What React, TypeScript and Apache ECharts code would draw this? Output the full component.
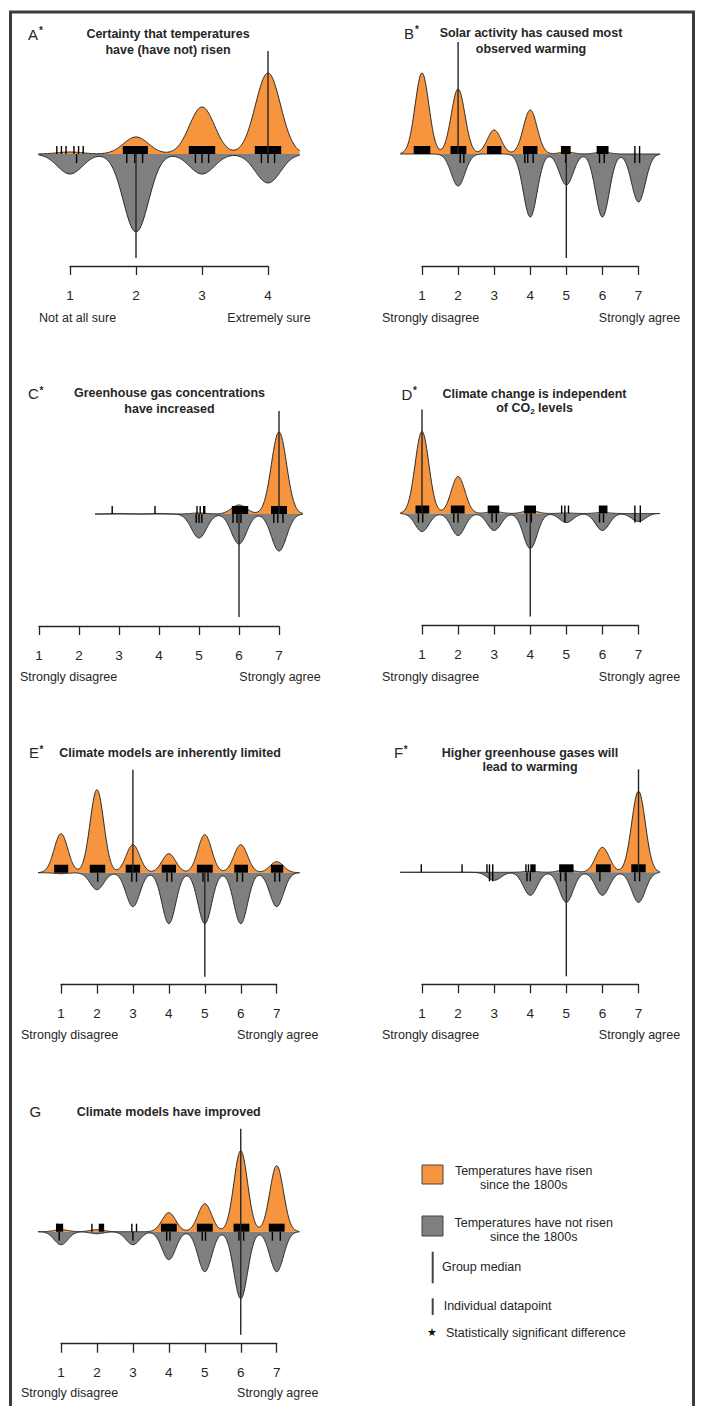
import React, { useEffect, useRef } from "react";
import * as echarts from "echarts";

const ORANGE = "#f7953f";
const GRAY = "#7f7f7f";
const INK = "#262626";
const FONT = '"Liberation Sans", Arial, Helvetica, sans-serif';
const BW = 0.19; // kernel bandwidth (response units)

// ---------- data (density peak per response level, in bean units) ----------
const levels4 = ["1", "2", "3", "4"];
const levels7 = ["1", "2", "3", "4", "5", "6", "7"];

const A_risen = [0.02, 0.17, 0.47, 0.81];
const A_notRisen = [0.2, 0.78, 0.2, 0.29];
const A_risenBands = [[1.8, 2.18], [2.8, 3.2], [3.8, 4.2]];
const A_risenTicks = [0.8, 0.87, 0.94, 1.06, 1.13, 1.2];
const A_notRisenTicks = [1.1, 1.86, 1.98, 2.1, 2.9, 3.0, 3.1, 3.9, 4.0, 4.1];
const A_medians = [4, 2];

const B_risen = [0.81, 0.65, 0.24, 0.44, 0.02, 0.02, 0];
const B_notRisen = [0, 0.32, 0, 0.63, 0.31, 0.63, 0.48];
const B_risenBands = [[0.77, 1.23], [1.79, 2.23], [2.8, 3.2], [3.8, 4.2], [4.85, 5.12], [5.84, 6.17]];
const B_risenTicks = [6.9, 7.03];
const B_notRisenTicks = [2.06, 2.16, 3.85, 3.93, 4.08, 4.98, 5.92, 6.05, 6.9, 7.03];
const B_medians = [2, 5];

const C_risen = [0, 0, 0.005, 0.005, 0.01, 0.09, 0.82];
const C_notRisen = [0, 0, 0, 0, 0.24, 0.3, 0.37];
const C_risenBands = [[5.82, 6.23], [6.8, 7.2], [5.1, 5.16]];
const C_risenTicks = [2.83, 3.9, 4.95, 5.03];
const C_notRisenTicks = [4.93, 5.0, 5.07, 5.85, 5.95, 6.05, 6.87, 6.97, 7.1];
const C_medians = [7, 6];

const D_risen = [0.82, 0.37, 0.02, 0.03, 0.005, 0.01, 0];
const D_notRisen = [0.18, 0.22, 0.17, 0.35, 0.09, 0.17, 0.08];
const D_risenBands = [[0.82, 1.2], [1.8, 2.18], [2.82, 3.14], [3.83, 4.16], [5.9, 6.14]];
const D_risenTicks = [4.87, 4.96, 5.06, 6.9, 7.05];
const D_notRisenTicks = [0.9, 1.02, 1.88, 2.0, 2.94, 3.06, 3.9, 4.03, 4.96, 5.92, 6.03, 6.9, 7.05];
const D_medians = [1, 4];

const E_risen = [0.39, 0.83, 0.28, 0.19, 0.38, 0.28, 0.11];
const E_notRisen = [0.01, 0.17, 0.34, 0.51, 0.51, 0.51, 0.34];
const E_risenBands = [[0.81, 1.2], [1.8, 2.23], [2.8, 3.2], [3.8, 4.2], [4.78, 5.22], [5.82, 6.2], [6.84, 7.18]];
const E_risenTicks: number[] = [];
const E_notRisenTicks = [2.02, 2.97, 3.1, 3.95, 4.08, 4.95, 5.09, 5.9, 6.05, 6.95, 7.08];
const E_medians = [3, 5];

const F_risen = [0, 0, 0, 0.01, 0.03, 0.25, 0.81];
const F_notRisen = [0, 0, 0.08, 0.23, 0.3, 0.23, 0.3];
const F_risenBands = [[4.0, 4.15], [4.8, 5.2], [5.82, 6.23], [6.8, 7.2]];
const F_risenTicks = [0.98, 2.11, 2.8, 2.87, 2.96, 3.88, 3.95];
const F_notRisenTicks = [2.87, 2.96, 3.91, 4.0, 4.84, 4.97, 5.93, 6.9, 7.03];
const F_medians = [7, 5];

const G_risen = [0.02, 0.02, 0, 0.19, 0.28, 0.81, 0.66];
const G_notRisen = [0.13, 0.02, 0.13, 0.28, 0.4, 0.67, 0.4];
const G_risenBands = [[0.86, 1.06], [2.05, 2.2], [3.78, 4.22], [4.78, 5.22], [5.8, 6.24], [6.78, 7.22]];
const G_risenTicks = [0.9, 1.86, 2.97, 3.1];
const G_notRisenTicks = [0.95, 3.0, 3.94, 4.03, 4.93, 5.02, 5.95, 6.08, 6.88, 7.1];
const G_medians = [6, 6];

const panelLetters = ["A", "B", "C", "D", "E", "F", "G"];
const significant = [true, true, true, true, true, true, false];
const panelTitles = [
  ["Certainty that temperatures", "have (have not) risen"],
  ["Solar activity has caused most", "observed warming"],
  ["Greenhouse gas concentrations", "have increased"],
  ["Climate change is independent", "of CO{sub|2} levels"],
  ["Climate models are inherently limited"],
  ["Higher greenhouse gases will", "lead to warming"],
  ["Climate models have improved"],
];
const agreeLabels = ["Strongly disagree", "Strongly agree"];
const sureLabels = ["Not at all sure", "Extremely sure"];
const legendLabels = [
  ["Temperatures have risen", "since the 1800s"],
  ["Temperatures have not risen", "since the 1800s"],
  "Group median",
  "Individual datapoint",
  "Statistically significant difference",
];

// ---------- layout ----------
type Layout = {
  l1: number; ln: number; y0: number; lo: number; hi: number; medLen: number[];
  letterX: number; letterY: number; titleX: number; titleY: number[]; subLX: number; subY: number;
};
const layouts: Layout[] = [
  { l1: 70, ln: 268, y0: 154, lo: 0.52, hi: 4.48, medLen: [1.03, 1.04], letterX: 28, letterY: 34, titleX: 168, titleY: [33.5, 50], subLX: 39, subY: 318 },
  { l1: 422, ln: 638.5, y0: 154, lo: 0.4, hi: 7.6, medLen: [1.12, 1.04], letterX: 404, letterY: 33, titleX: 531, titleY: [32.5, 49.3], subLX: 382, subY: 318 },
  { l1: 39, ln: 279, y0: 514, lo: 2.4, hi: 7.6, medLen: [1.03, 1.03], letterX: 28, letterY: 393.5, titleX: 169.5, titleY: [393.3, 408.5], subLX: 20, subY: 676.5 },
  { l1: 422, ln: 638.5, y0: 513.5, lo: 0.4, hi: 7.6, medLen: [1.04, 1.03], letterX: 401.5, letterY: 394, titleX: 534.5, titleY: [394, 408], subLX: 382, subY: 677 },
  { l1: 61, ln: 276.7, y0: 872.7, lo: 0.36, hi: 7.64, medLen: [1.03, 1.04], letterX: 29, letterY: 752.7, titleX: 170, titleY: [752.7], subLX: 21, subY: 1035 },
  { l1: 422, ln: 638.5, y0: 872.3, lo: 0.4, hi: 7.6, medLen: [1.03, 1.04], letterX: 394, letterY: 752.7, titleX: 530, titleY: [752.7, 767.3], subLX: 382, subY: 1035 },
  { l1: 61, ln: 276.7, y0: 1231.7, lo: 0.36, hi: 7.64, medLen: [1.03, 1.03], letterX: 29.5, letterY: 1111.7, titleX: 168.7, titleY: [1111.7], subLX: 21, subY: 1393.3 },
];

const panelData = [
  { levels: levels4, risen: A_risen, notRisen: A_notRisen, bands: A_risenBands, tR: A_risenTicks, tN: A_notRisenTicks, med: A_medians, sub: sureLabels },
  { levels: levels7, risen: B_risen, notRisen: B_notRisen, bands: B_risenBands, tR: B_risenTicks, tN: B_notRisenTicks, med: B_medians, sub: agreeLabels },
  { levels: levels7, risen: C_risen, notRisen: C_notRisen, bands: C_risenBands, tR: C_risenTicks, tN: C_notRisenTicks, med: C_medians, sub: agreeLabels },
  { levels: levels7, risen: D_risen, notRisen: D_notRisen, bands: D_risenBands, tR: D_risenTicks, tN: D_notRisenTicks, med: D_medians, sub: agreeLabels },
  { levels: levels7, risen: E_risen, notRisen: E_notRisen, bands: E_risenBands, tR: E_risenTicks, tN: E_notRisenTicks, med: E_medians, sub: agreeLabels },
  { levels: levels7, risen: F_risen, notRisen: F_notRisen, bands: F_risenBands, tR: F_risenTicks, tN: F_notRisenTicks, med: F_medians, sub: agreeLabels },
  { levels: levels7, risen: G_risen, notRisen: G_notRisen, bands: G_risenBands, tR: G_risenTicks, tN: G_notRisenTicks, med: G_medians, sub: agreeLabels },
];

// kernel density built from the per-level peaks
function bean(peaks: number[], lo: number, hi: number, sign: number) {
  const out: number[][] = [];
  const n = Math.round((hi - lo) / 0.01);
  for (let k = 0; k <= n; k++) {
    const x = lo + ((hi - lo) * k) / n;
    let y = 0;
    peaks.forEach((h, i) => {
      const d = x - (i + 1);
      y += h * Math.exp((-d * d) / (2 * BW * BW));
    });
    out.push([x, sign * y]);
  }
  return out;
}

function buildOption() {
  const grid: any[] = [];
  const xAxis: any[] = [];
  const yAxis: any[] = [];
  const series: any[] = [];
  const elements: any[] = [];

  panelData.forEach((p, i) => {
    const L = layouts[i];
    const n = p.levels.length;
    const px = (v: number) => L.l1 + ((v - 1) * (L.ln - L.l1)) / (n - 1);
    const gB = 2 * i; // bean grid
    const gA = 2 * i + 1; // axis grid
    grid.push({ left: px(L.lo), width: px(L.hi) - px(L.lo), top: L.y0 - 120, height: 232 });
    grid.push({ left: L.l1, width: L.ln - L.l1, top: L.y0 + 102, height: 10 });
    xAxis.push({ type: "value", gridIndex: gB, min: L.lo, max: L.hi, show: false });
    yAxis.push({ type: "value", gridIndex: gB, min: -1.12, max: 1.2, show: false });
    xAxis.push({
      type: "value", gridIndex: gA, min: 1, max: n, interval: 1,
      axisLine: { show: true, onZero: false, lineStyle: { color: INK, width: 1.3 } },
      axisTick: { show: true, length: 9, lineStyle: { color: INK, width: 1.3 } },
      axisLabel: { fontSize: 13.5, color: INK, margin: 22, fontFamily: FONT, formatter: (v: number) => p.levels[Math.round(v) - 1] ?? "" },
      splitLine: { show: false },
    });
    yAxis.push({ type: "value", gridIndex: gA, min: 0, max: 1, show: false });

    const common = {
      type: "line", xAxisIndex: gB, yAxisIndex: gB, symbol: "none", showSymbol: false,
      silent: true, z: 2, lineStyle: { color: INK, width: 1 },
    };
    series.push({ ...common, name: "risen", data: bean(p.risen, L.lo, L.hi, 1), areaStyle: { color: ORANGE, opacity: 1 } });
    series.push({ ...common, name: "notRisen", data: bean(p.notRisen, L.lo, L.hi, -1), areaStyle: { color: GRAY, opacity: 1 } });

    const items: number[][] = [];
    p.bands.forEach((b) => items.push([b[0], b[1], 0]));
    p.tR.forEach((t) => items.push([t, t, 1]));
    p.tN.forEach((t) => items.push([t, t, 2]));
    items.push([p.med[0], L.medLen[0], 3]);
    items.push([p.med[1], L.medLen[1], 4]);
    series.push({
      type: "custom", xAxisIndex: gB, yAxisIndex: gB, clip: false, silent: true, z: 3,
      data: items,
      renderItem: (_params: any, api: any) => {
        const a = api.value(0), b = api.value(1), kind = api.value(2);
        if (kind === 0) {
          const p1 = api.coord([a, 0.08]);
          const p2 = api.coord([b, 0]);
          return { type: "rect", shape: { x: p1[0], y: p1[1], width: p2[0] - p1[0], height: p2[1] - p1[1] }, style: { fill: "#000" } };
        }
        if (kind === 1 || kind === 2) {
          const p1 = api.coord([a, 0]);
          const p2 = api.coord([a, kind === 1 ? 0.08 : -0.09]);
          return { type: "line", shape: { x1: p1[0], y1: p1[1], x2: p2[0], y2: p2[1] }, style: { stroke: "#000", lineWidth: 1.4 } };
        }
        const p1 = api.coord([a, 0]);
        const p2 = api.coord([a, kind === 3 ? b : -b]);
        return { type: "line", shape: { x1: p1[0], y1: p1[1], x2: p2[0], y2: p2[1] }, style: { stroke: INK, lineWidth: 1.4 } };
      },
    });

    // panel letter + significance star
    const letterW: Record<string, number> = { A: 10.5, B: 10.5, C: 11, D: 11, E: 10, F: 9.2, G: 11.7 };
    elements.push({ type: "text", x: L.letterX, y: L.letterY, style: { text: panelLetters[i], fontSize: 15, fontFamily: FONT, fill: INK, align: "left", verticalAlign: "middle" } });
    if (significant[i]) {
      elements.push({ type: "text", x: L.letterX + letterW[panelLetters[i]] + 0.5, y: L.letterY - 3.5, style: { text: "*", fontSize: 10, fontWeight: "bold", fontFamily: FONT, fill: INK, align: "left", verticalAlign: "middle" } });
    }
    panelTitles[i].forEach((t, j) => {
      elements.push({
        type: "text", x: L.titleX, y: L.titleY[j],
        style: {
          text: t.includes("{sub|") ? t.replace(/^([^{]*)\{sub\|2\}(.*)$/, "{t|$1}{sub|2}{t|$2}") : t,
          fontSize: 12.5, fontWeight: "bold", fontFamily: FONT, fill: INK, align: "center", verticalAlign: "middle",
          rich: {
            t: { fontSize: 12.5, fontWeight: "bold", fontFamily: FONT, fill: INK, lineHeight: 14 },
            sub: { fontSize: 8, fontWeight: "bold", fontFamily: FONT, fill: INK, lineHeight: 14, padding: [6, 0, 0, 0] },
          },
        },
      });
    });
    elements.push({ type: "text", x: L.subLX, y: L.subY, style: { text: p.sub[0], fontSize: 12.5, fontFamily: FONT, fill: INK, align: "left", verticalAlign: "middle" } });
    elements.push({ type: "text", x: L.ln + 1, y: L.subY, style: { text: p.sub[1], fontSize: 12.5, fontFamily: FONT, fill: INK, align: "center", verticalAlign: "middle" } });
  });

  // legend
  const lgText = (text: string, x: number, y: number, align = "left") => ({
    type: "text", x, y, style: { text, fontSize: 12.5, fontFamily: FONT, fill: INK, align, verticalAlign: "middle" },
  });
  elements.push({ type: "rect", shape: { x: 422, y: 1165, width: 21, height: 19 }, style: { fill: ORANGE, stroke: "#444", lineWidth: 1 } });
  elements.push(lgText((legendLabels[0] as string[])[0], 523.7, 1170.7, "center"));
  elements.push(lgText((legendLabels[0] as string[])[1], 523.7, 1185.3, "center"));
  elements.push({ type: "rect", shape: { x: 422, y: 1216, width: 21, height: 20 }, style: { fill: GRAY, stroke: "#444", lineWidth: 1 } });
  elements.push(lgText((legendLabels[1] as string[])[0], 533.7, 1222.7, "center"));
  elements.push(lgText((legendLabels[1] as string[])[1], 533.7, 1237.3, "center"));
  elements.push({ type: "line", shape: { x1: 432.7, y1: 1251.7, x2: 432.7, y2: 1283.3 }, style: { stroke: "#444", lineWidth: 2 } });
  elements.push(lgText(legendLabels[2] as string, 442, 1267.3));
  elements.push({ type: "line", shape: { x1: 432.7, y1: 1298.3, x2: 432.7, y2: 1315 }, style: { stroke: "#444", lineWidth: 2 } });
  elements.push(lgText(legendLabels[3] as string, 443.7, 1305.7));
  elements.push({ type: "text", x: 432, y: 1332, style: { text: "★", fontSize: 11, fontFamily: '"DejaVu Sans", sans-serif', fill: "#111", align: "center", verticalAlign: "middle" } });
  elements.push(lgText(legendLabels[4] as string, 446, 1332.7));

  // frame
  elements.push({ type: "rect", shape: { x: 10.5, y: 12, width: 683, height: 1500 }, style: { fill: "none", stroke: "#3c3c3c", lineWidth: 3 }, z: 10 });

  return {
    animation: false,
    backgroundColor: "#ffffff",
    grid, xAxis, yAxis, series,
    graphic: { elements },
  };
}

export default function App() {
  const ref = useRef<HTMLDivElement>(null);
  useEffect(() => {
    if (!ref.current) return;
    const chart = echarts.init(ref.current, undefined, { renderer: "svg" });
    chart.setOption(buildOption() as any);
    return () => chart.dispose();
  }, []);
  return <div ref={ref} style={{ position: "absolute", left: 0, top: 0, width: 704, height: 1406 }} />;
}
